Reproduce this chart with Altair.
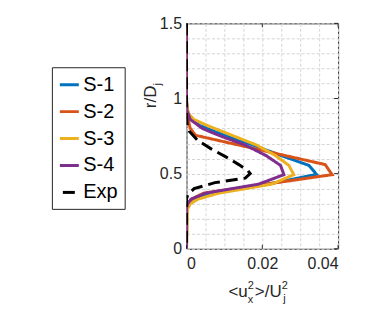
import altair as alt
import pandas as pd

# ---- data ----
series = ["S-1", "S-2", "S-3", "S-4", "Exp"]
colors = ["#0072BD", "#D95319", "#EDB120", "#7E2F8E", "#000000"]

s1_r = [1.5, 0.99, 0.93, 0.87, 0.82, 0.75, 0.69, 0.62, 0.555, 0.495, 0.43, 0.37, 0.33, 0.30, 0.27, 0.0]
s1_x = [0.0, 0.0, 0.0001, 0.001, 0.0035, 0.0105, 0.0175, 0.025, 0.0323, 0.0343, 0.0215, 0.006, 0.0015, 0.0004, 0.0001, 0.0]

s2_r = [1.5, 0.98, 0.93, 0.87, 0.80, 0.755, 0.56, 0.493, 0.43, 0.37, 0.33, 0.30, 0.27, 0.0]
s2_x = [0.0, 0.0, 0.0001, 0.0003, 0.001, 0.0024, 0.0366, 0.0384, 0.021, 0.0045, 0.0013, 0.0004, 0.0001, 0.0]

s3_r = [1.5, 0.99, 0.95, 0.90, 0.86, 0.82, 0.75, 0.69, 0.62, 0.555, 0.493, 0.43, 0.37, 0.33, 0.30, 0.26, 0.0]
s3_x = [0.0, 0.0, 0.0001, 0.0005, 0.002, 0.0055, 0.0125, 0.0185, 0.0235, 0.027, 0.0283, 0.0225, 0.0085, 0.003, 0.001, 0.0002, 0.0]

s4_r = [1.5, 0.99, 0.92, 0.86, 0.80, 0.75, 0.69, 0.62, 0.555, 0.493, 0.43, 0.37, 0.33, 0.30, 0.27, 0.0]
s4_x = [0.0, 0.0, 0.0001, 0.001, 0.0042, 0.009, 0.0155, 0.021, 0.0248, 0.0257, 0.019, 0.005, 0.0012, 0.0003, 0.0, 0.0]

exp_r = [1.5, 0.88, 0.82, 0.78, 0.72, 0.665, 0.61, 0.56, 0.52, 0.50, 0.47, 0.44, 0.40, 0.36, 0.33, 0.0]
exp_x = [0.0, 0.0, 0.0002, 0.0008, 0.003, 0.0065, 0.0105, 0.0138, 0.0162, 0.0168, 0.0155, 0.0075, 0.002, 0.0003, 0.0, 0.0]

x_grid = [0, 0.005, 0.01, 0.015, 0.02, 0.025, 0.03, 0.035, 0.04]
y_grid = [round(0.1 * i, 1) for i in range(16)]
x_major = [0, 0.02, 0.04]
y_major = [0, 0.5, 1.0, 1.5]

rows = []
for name, rr, xx in [("S-1", s1_r, s1_x), ("S-2", s2_r, s2_x), ("S-3", s3_r, s3_x),
                     ("S-4", s4_r, s4_x), ("Exp", exp_r, exp_x)]:
    for i, (r, x) in enumerate(zip(rr, xx)):
        rows.append({"series": name, "r": r, "x": x, "i": i})
df = pd.DataFrame(rows)

W, H = 152, 226
FONT = "Liberation Sans"
TXT = "#262626"

xscale = alt.Scale(domain=[0, 0.04], nice=False, zero=False)
yscale = alt.Scale(domain=[0, 1.5], nice=False, zero=False)

color = alt.Color(
    "series:N",
    scale=alt.Scale(domain=series, range=colors),
    legend=alt.Legend(
        title=None, orient="none", legendX=-135, legendY=44,
        symbolType="stroke", symbolSize=361, symbolStrokeWidth=3,
        labelFont=FONT, labelFontSize=20, labelColor="#000000", labelOffset=3,
        rowPadding=6.0, padding=6.5, strokeColor=TXT, fillColor="white",
        symbolDashOffset=15,
    ),
)
dash = alt.StrokeDash(
    "series:N",
    scale=alt.Scale(domain=series, range=[[1, 0], [1, 0], [1, 0], [1, 0], [12, 6]]),
    legend=None,
)

xaxis = alt.Axis(
    values=x_grid, title=None, ticks=False, domain=False,
    labelExpr="round(datum.value*1000) % 20 == 0 ? format(datum.value, '~g') : ''",
    labelFont=FONT, labelFontSize=16, labelColor=TXT, labelPadding=7,
    grid=True, gridColor="#d4d4d4", gridDash=[3, 2], gridWidth=1, labelOverlap=False,
)
yaxis = alt.Axis(
    values=y_grid, title=None, ticks=False, domain=False,
    labelExpr="round(datum.value*10) % 5 == 0 ? format(datum.value, '~g') : ''",
    labelFont=FONT, labelFontSize=16, labelColor=TXT, labelPadding=5,
    grid=True, gridColor="#d4d4d4", gridDash=[3, 2], gridWidth=1, labelOverlap=False,
)

base = alt.Chart(df)
lines = []
for k, name in enumerate(series):
    enc = dict(
        x=alt.X("x:Q", scale=xscale, axis=xaxis),
        y=alt.Y("r:Q", scale=yscale, axis=yaxis),
        order="i:Q",
        color=color,
        strokeDash=dash,
    )
    lines.append(
        base.transform_filter(alt.datum.series == name)
        .mark_line(strokeWidth=3, clip=True, strokeCap="butt", strokeJoin="miter")
        .encode(**enc)
    )

# inward tick marks
xt = pd.DataFrame({"t": x_major})
yt = pd.DataFrame({"t": y_major})
tick_b = alt.Chart(xt).mark_rule(color=TXT, strokeWidth=1).encode(
    x=alt.X("t:Q", scale=xscale, axis=xaxis), y=alt.value(H), y2=alt.value(H - 4))
tick_t = alt.Chart(xt).mark_rule(color=TXT, strokeWidth=1).encode(
    x=alt.X("t:Q", scale=xscale, axis=xaxis), y=alt.value(0), y2=alt.value(4))
tick_r = alt.Chart(yt).mark_rule(color=TXT, strokeWidth=1).encode(
    y=alt.Y("t:Q", scale=yscale, axis=yaxis), x=alt.value(W), x2=alt.value(W - 4))

one = pd.DataFrame({"a": [0]})

def txt(s, x, y, size, angle=0):
    kw = dict(font=FONT, fontSize=size, color=TXT, align="left", baseline="alphabetic")
    if angle:
        kw["angle"] = angle
    return alt.Chart(one).mark_text(**kw).encode(
        text=alt.value(s), x=alt.value(x), y=alt.value(y))

# x-axis title  <u_x^2>/U_j^2
xb = 274
x0 = 42
title_parts = [
    txt("<u", x0, xb, 17),
    txt("2", x0 + 19.4, xb - 8, 11),
    txt("x", x0 + 19.4, xb + 6, 11),
    txt(">/U", x0 + 26.5, xb, 17),
    txt("2", x0 + 26.5 + 27, xb - 8, 11),
    txt("j", x0 + 26.5 + 27 + 1.5, xb + 5, 11),
]
# y-axis title  r/D_j (rotated)
yb = 85
ytitle = [
    txt("r/D", -31, yb, 17, angle=270),
    txt("j", -26, yb - 22.7, 11, angle=270),
]

chart = alt.layer(
    *lines, tick_b, tick_t, tick_r, *title_parts, *ytitle
).properties(
    width=W, height=H,
    autosize=alt.AutoSizeParams(type="none"),
    padding={"left": 179, "top": 15, "right": 40, "bottom": 60},
).configure_view(stroke=TXT, strokeWidth=1)

chart.save("out.html", embed_options={"renderer": "svg", "actions": False})
